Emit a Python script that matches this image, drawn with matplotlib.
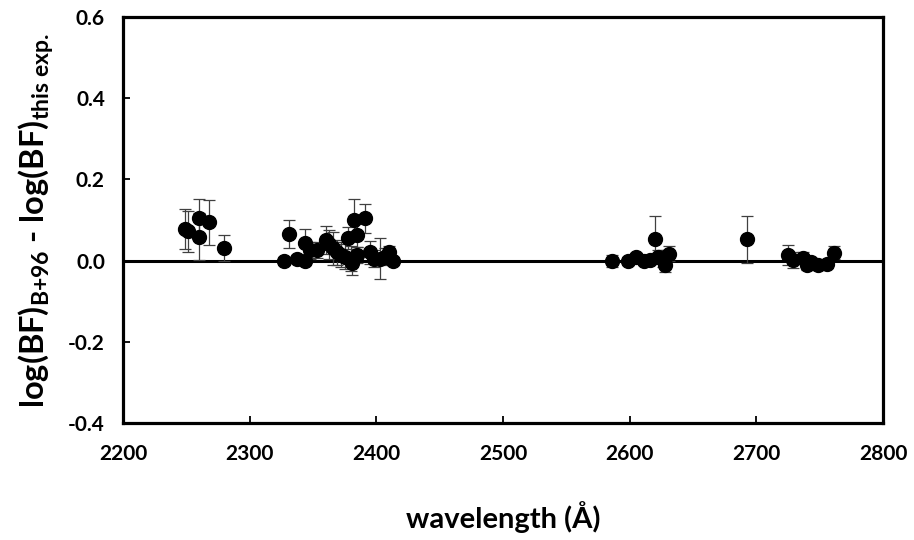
import matplotlib
matplotlib.use("Agg")
import matplotlib.pyplot as plt
import numpy as np

plt.rcParams['font.family'] = ['Lato', 'DejaVu Sans']
plt.rcParams['font.weight'] = 'bold'
plt.rcParams['mathtext.fontset'] = 'custom'
plt.rcParams['mathtext.rm'] = 'Lato:bold'
plt.rcParams['mathtext.it'] = 'Lato:bold'
plt.rcParams['mathtext.bf'] = 'Lato:bold'

# wavelength (A), log(BF) difference, error
wavelength = [2249, 2251.5, 2260, 2260, 2267.5, 2280,
              2327, 2331, 2337, 2344, 2344, 2348, 2353, 2360, 2363, 2366,
              2369, 2372, 2375, 2378, 2380, 2381, 2382, 2385, 2385, 2391,
              2395, 2398, 2403, 2407, 2410, 2413,
              2586, 2599, 2605, 2611, 2616, 2620, 2622, 2626, 2628, 2631,
              2693, 2725, 2729, 2737, 2740, 2743, 2749, 2756, 2761.5]
dlogbf = [0.078, 0.072, 0.106, 0.059, 0.094, 0.031,
          0.000, 0.065, 0.005, 0.000, 0.044, 0.025, 0.026, 0.051, 0.040, 0.030,
          0.020, 0.015, 0.010, 0.056, 0.005, -0.007, 0.100, 0.064, 0.013, 0.104,
          0.020, 0.005, 0.005, 0.010, 0.022, 0.000,
          -0.002, 0.000, 0.008, -0.002, 0.002, 0.053, 0.010, 0.005, -0.012, 0.017,
          0.052, 0.013, 0.001, 0.007, -0.012, -0.004, -0.012, -0.008, 0.019]
err = [0.050, 0.050, 0.046, 0.058, 0.055, 0.033,
       0.010, 0.034, 0.010, 0.010, 0.033, 0.020, 0.020, 0.034, 0.035, 0.040,
       0.030, 0.030, 0.030, 0.027, 0.030, 0.028, 0.052, 0.030, 0.020, 0.035,
       0.029, 0.020, 0.050, 0.020, 0.015, 0.010,
       0.015, 0.010, 0.010, 0.010, 0.010, 0.058, 0.015, 0.020, 0.017, 0.018,
       0.057, 0.025, 0.020, 0.015, 0.010, 0.010, 0.010, 0.010, 0.016]

fig = plt.figure(figsize=(9.14, 5.4), dpi=100)
ax = fig.add_axes([0.1346, 0.2167, 0.8315, 0.7518])

ax.axhline(0, color='black', lw=2.2, zorder=1)
ax.errorbar(wavelength, dlogbf, yerr=err, fmt='none', ecolor='#404040',
            elinewidth=0.9, capsize=4.3, capthick=0.9, zorder=2)
ax.plot(wavelength, dlogbf, 'o', color='black', markersize=10, zorder=3)

ax.set_xlim(2200, 2800)
ax.set_ylim(-0.4, 0.6)
ax.set_xticks(np.arange(2200, 2801, 100))
ax.set_yticks(np.arange(-0.4, 0.61, 0.2))
ax.set_yticklabels(['%.1f' % v for v in np.arange(-0.4, 0.61, 0.2)])

for s in ax.spines.values():
    s.set_linewidth(2.3)
ax.tick_params(direction='in', length=5, width=1.3, labelsize=15, pad=15)
ax.tick_params(axis='y', pad=13)

ax.set_xlabel('wavelength (Å)', fontsize=21, fontweight='bold', labelpad=27)
ax.set_ylabel(r'$\mathrm{log(BF)_{B\text{+}96}\text{ - }log(BF)_{this\ exp.}}$',
              fontsize=23.5, labelpad=9)

fig.savefig('out.png', dpi=100)
